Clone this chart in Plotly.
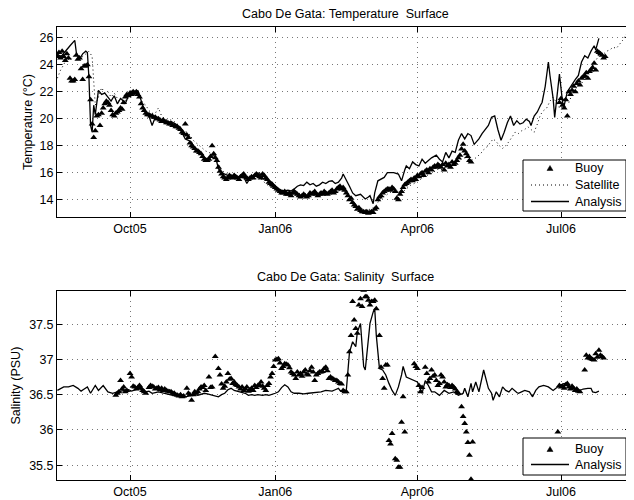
import pandas as pd
import plotly.graph_objects as go

# ---------------- data (day offsets from 2005-08-16) ----------------
BASE_DATE = "2005-08-16"

# Buoy temperature, daily from day 0 to 262
buoy_temp_a = [
    24.6, 24.9, 24.5, 25.0, 24.6, 24.3, 24.8, 24.5, 23.0, 22.8,
    22.8, 22.9, 24.7, 24.4, 24.5, 23.7, 22.9, 23.9, 23.9, 24.0,
    23.1, 21.4, 19.6, 18.6, 19.1, 20.2, 20.3, 19.5, 20.4, 20.8,
    21.1, 21.3, 21.2, 21.0, 20.6, 20.3, 20.2, 20.4, 20.5, 20.6,
    20.8, 20.7, 21.2, 21.6, 21.8, 21.7, 21.9, 21.8, 22.0, 21.9,
    22.0, 21.8, 21.6, 21.1, 20.8, 20.6, 20.4, 20.3, 20.3, 20.2,
    20.2, 20.1, 20.1, 20.0, 20.0, 19.9, 19.8, 19.9, 19.8, 19.7,
    19.7, 19.6, 19.6, 19.5, 19.5, 19.4, 19.4, 19.3, 19.2, 19.0,
    18.9, 19.6, 18.8, 18.6, 18.2, 18.0, 17.9, 17.8, 17.6, 17.6,
    17.5, 17.4, 17.2, 17.0, 16.9, 16.9, 17.0, 17.2, 18.0, 17.4,
    17.1, 16.9, 16.4, 16.1, 15.9, 15.7, 15.6, 15.5, 15.6, 15.8,
    15.7, 15.6, 15.8, 15.7, 15.6, 15.5, 15.7, 15.8, 15.9, 15.7,
    15.6, 15.5, 15.6, 15.7, 15.6, 15.8, 15.9, 15.8, 15.7, 15.6,
    15.9, 15.8, 15.6, 15.5, 15.3, 15.2, 15.1, 15.0, 14.9, 14.8,
    14.7, 14.6, 14.5, 14.5, 14.6, 14.4, 14.4, 14.5, 14.3, 14.5,
    14.6, 14.5, 14.4, 14.3, 14.2, 14.3, 14.4, 14.3, 14.2, 14.3,
    14.5, 14.4, 14.5, 14.6, 14.4, 14.3, 14.4, 14.5, 14.4, 14.6,
    14.5, 14.4, 14.5, 14.6, 14.7, 14.5, 14.6, 14.8, 14.9, 15.0,
    14.8, 14.9, 14.7, 14.5, 14.3, 14.0, 14.1, 13.8, 13.6, 13.5,
    13.3, 13.4, 13.2, 13.1, 13.1, 13.05, 13.1, 13.0, 13.05, 13.1,
    13.05, 13.3, 13.4, 14.0, 14.2, 14.3, 14.5, 14.6, 14.7, 14.8,
    14.8, 14.7, 14.9, 14.8, 14.6, 14.1, 14.0, 14.4, 14.6, 14.9,
    15.1, 15.2, 15.3, 15.4, 15.5, 15.4, 15.6, 15.5, 15.8, 15.7,
    15.9, 16.0, 15.8, 16.1, 16.2, 16.0, 16.3, 16.2, 16.4, 16.5,
    16.4, 16.6, 16.5, 16.4, 16.6, 16.2, 16.7, 16.5, 16.6, 16.4,
    16.8, 16.6, 16.7, 16.9, 17.1, 17.3, 17.75, 18.1, 17.6, 17.4,
    17.2, 16.9, 16.8,
]
# Buoy temperature, daily from day 318 to 347
buoy_temp_b_start = 318
buoy_temp_b = [
    21.2, 21.5, 21.0, 20.8, 21.4, 20.2, 22.0, 21.8, 22.1, 22.4,
    22.0, 22.6, 22.8, 22.5, 23.0, 23.1, 23.2, 23.4, 23.0, 23.5,
    23.6, 23.8, 24.1, 23.6, 25.0, 24.9, 24.8, 24.7, 24.5, 24.6,
]

# Satellite temperature, every 2 days from day 0
sat_temp = [
    23.0, 23.6, 24.0, 24.5, 24.3, 24.6, 24.9, 24.4, 24.6, 24.8,
    25.0, 24.6, 21.0, 21.6, 22.3, 21.9, 22.0, 21.6, 21.9, 21.5,
    21.2, 21.0, 21.6, 22.1, 22.0, 21.9, 21.6, 21.2, 21.0, 20.6,
    20.4, 20.4, 20.8, 20.2, 20.0, 19.9, 19.9, 19.8, 19.6, 19.4,
    19.1, 19.0, 18.8, 18.4, 18.2, 18.0, 17.8, 17.6, 17.5, 17.4,
    17.0, 16.6, 16.2, 16.0, 15.9, 15.8, 15.9, 15.7, 15.8, 15.6,
    15.7, 15.6, 15.5, 15.6, 15.7, 15.4, 15.2, 15.0, 14.9, 14.8,
    14.6, 14.5, 14.4, 14.5, 14.4, 14.3, 14.4, 14.5, 14.4, 14.3,
    14.4, 14.5, 14.4, 14.6, 14.5, 14.6, 14.5, 14.6, 14.7, 14.6,
    14.8, 14.6, 14.3, 14.0, 13.7, 13.5, 13.4, 13.3, 13.2, 13.3,
    13.4, 13.6, 14.0, 14.2, 14.3, 14.5, 14.6, 14.7, 14.6, 14.5,
    14.7, 14.9, 15.1, 15.2, 15.4, 15.5, 15.7, 15.8, 15.9, 16.0,
    16.2, 16.3, 16.2, 16.4, 16.6, 16.5, 16.7, 16.9, 17.0, 17.1,
    17.0, 16.9, 17.0, 17.2, 17.4, 17.7, 17.9, 18.2, 18.5, 18.3,
    18.0, 17.8, 18.0, 18.3, 18.7, 19.0, 18.9, 19.1, 19.2, 19.4,
    19.2, 19.0, 19.6, 20.3, 20.6, 20.8, 21.3, 21.6, 21.2, 20.8,
    21.3, 21.6, 21.2, 21.8, 22.2, 22.4, 22.6, 22.9, 23.3, 23.8,
    24.2, 24.6, 24.9, 24.8, 25.0, 25.1, 25.3, 25.2, 25.5, 25.8,
    26.2, 26.5,
]

# Analysis temperature
ana_temp_day = [
    0, 2, 3, 5, 8, 11, 12, 14, 16, 18,
    19, 20, 21, 22, 23, 24, 25, 26, 28, 30,
    32, 34, 36, 38, 40, 41, 43, 45, 47, 49,
    51, 53, 54, 56, 58, 60, 62, 64, 66, 68,
    70, 72, 75, 77, 79, 81, 83, 85, 87, 89,
    91, 93, 96, 98, 100, 102, 104, 106, 108, 110,
    112, 114, 117, 118, 120, 122, 124, 126, 128, 130,
    132, 134, 136, 138, 140, 142, 144, 146, 148, 150,
    152, 154, 156, 158, 160, 162, 164, 166, 168, 170,
    172, 174, 176, 178, 180, 181, 183, 185, 187, 189,
    192, 194, 195, 197, 198, 200, 201, 203, 205, 207,
    209, 211, 213, 216, 218, 220, 221, 223, 225, 227,
    229, 231, 233, 235, 237, 240, 242, 244, 246, 248,
    250, 252, 254, 256, 258, 260, 262, 264, 267, 269,
    271, 273, 275, 277, 279, 281, 283, 285, 287, 289,
    291, 293, 295, 297, 299, 300, 302, 304, 306, 307,
    309, 311, 312, 314, 315, 317, 318, 320, 321, 323,
    324, 326, 328, 330, 332, 334, 336, 338, 340, 341,
    343,
]
ana_temp = [
    24.8, 24.6, 24.7, 25.0, 25.4, 25.8, 24.9, 24.4, 24.8, 25.0,
    24.9, 23.0, 19.5, 19.0, 21.0, 20.3, 21.3, 22.1, 21.8, 21.9,
    21.6, 21.3, 21.7, 21.1, 21.5, 21.4, 21.1, 21.7, 22.0, 21.8,
    22.1, 21.4, 21.0, 20.5, 20.2, 19.5, 20.1, 20.0, 19.85, 19.9,
    19.7, 19.8, 19.6, 19.4, 19.0, 18.5, 18.4, 18.25, 17.75, 17.6,
    17.4, 17.1, 17.0, 17.25, 17.25, 16.3, 16.0, 15.9, 15.8, 15.7,
    15.9, 15.7, 15.8, 15.7, 15.2, 15.6, 15.8, 15.9, 16.0, 15.6,
    15.5, 15.4, 15.3, 15.0, 14.8, 14.7, 14.65, 14.7, 14.65, 14.8,
    15.0, 15.1, 15.05, 15.3, 15.1, 15.2, 15.0, 15.1, 15.3, 15.2,
    15.35, 15.4, 15.2, 15.3, 15.6, 15.9, 15.5, 15.0, 14.5, 14.3,
    14.4, 14.2, 14.05, 14.2, 14.3, 13.7, 14.5, 15.4, 15.5, 15.65,
    16.0, 16.0, 16.0, 15.9, 15.4, 16.2, 16.5, 16.3, 16.8, 16.6,
    16.5, 17.0, 16.7, 16.9, 17.1, 17.3, 17.0, 16.8, 17.5, 17.1,
    17.6, 17.5, 18.4, 18.9, 18.5, 18.9, 18.75, 18.1, 18.5, 18.9,
    19.2, 19.5, 20.1, 20.2, 19.2, 18.4, 19.0, 19.7, 20.2, 19.5,
    19.85, 19.6, 19.7, 19.97, 19.8, 19.5, 20.2, 20.5, 21.0, 21.2,
    22.4, 24.2, 23.2, 21.5, 20.1, 22.2, 23.3, 21.2, 20.96, 22.0,
    22.2, 22.6, 22.9, 23.2, 24.2, 24.67, 24.5, 25.0, 25.4, 25.1,
    25.95,
]

# Salinity buoy
sal_buoy_day = [
    37, 38, 39, 40, 41, 42, 43, 44, 46, 47,
    48, 49, 50, 51, 52, 53, 54, 55, 56, 58,
    59, 60, 61, 62, 63, 64, 65, 66, 67, 68,
    69, 70, 71, 72, 73, 74, 75, 76, 77, 78,
    79, 80, 82, 83, 84, 85, 86, 87, 88, 89,
    90, 91, 92, 93, 94, 96, 97, 98, 100, 102,
    103, 104, 105, 106, 107, 108, 109, 110, 111, 112,
    113, 114, 115, 116, 117, 118, 119, 120, 121, 122,
    123, 124, 125, 126, 127, 128, 129, 130, 131, 132,
    133, 134, 135, 136, 137, 138, 139, 140, 141, 142,
    143, 144, 145, 146, 147, 148, 149, 150, 151, 152,
    153, 154, 155, 156, 157, 158, 159, 160, 161, 162,
    163, 164, 165, 166, 167, 168, 169, 170, 171, 172,
    173, 174, 175, 176, 177, 178, 179, 180, 181, 182,
    183, 184, 185, 186, 187, 188, 189, 190, 191, 192,
    193, 194, 195, 196, 197, 198, 199, 200, 201, 202,
    204, 205, 206, 207, 208, 209, 210, 211, 212, 214,
    215, 216, 217, 218, 219, 220, 226, 227, 228, 229,
    230, 231, 233, 234, 235, 236, 237, 238, 239, 240,
    241, 242, 243, 244, 245, 246, 247, 248, 249, 250,
    251, 252, 253, 254, 256, 257, 258, 259, 260, 261,
    262, 263, 317, 318, 319, 320, 321, 322, 323, 324,
    325, 326, 327, 328, 329, 330, 331, 334, 335, 336,
    337, 338, 339, 340, 341, 342, 343, 344, 345, 346,
]
sal_buoy = [
    36.49, 36.52, 36.54, 36.70, 36.58, 36.61, 36.54, 36.56, 36.80, 36.75,
    36.62, 36.61, 36.58, 36.60, 36.63, 36.59, 36.56, 36.54, 36.52, 36.60,
    36.63, 36.62, 36.61, 36.58, 36.59, 36.60, 36.57, 36.59, 36.56, 36.58,
    36.56, 36.55, 36.54, 36.54, 36.52, 36.52, 36.50, 36.49, 36.48, 36.50,
    36.47, 36.48, 36.59, 36.52, 36.50, 36.42, 36.50, 36.54, 36.52, 36.54,
    36.58, 36.61, 36.60, 36.63, 36.56, 36.75, 36.60, 36.61, 37.04, 36.87,
    36.78, 36.65, 36.59, 36.62, 36.68, 36.80, 36.72, 36.73, 36.66, 36.68,
    36.64, 36.63, 36.61, 36.58, 36.61, 36.56, 36.58, 36.61, 36.55, 36.57,
    36.59, 36.56, 36.63, 36.60, 36.63, 36.64, 36.68, 36.62, 36.59, 36.56,
    36.63, 36.66, 36.75, 36.80, 36.90, 36.99, 37.00, 37.01, 36.95, 36.87,
    36.90, 36.94, 36.93, 36.92, 36.88, 36.82, 36.80, 36.78, 36.73, 36.82,
    36.78, 36.80, 36.76, 36.82, 36.85, 36.79, 36.78, 36.84, 36.89, 36.82,
    36.70, 36.78, 36.80, 36.82, 36.82, 36.83, 36.87, 36.89, 36.84, 36.73,
    36.75, 36.73, 36.72, 36.70, 36.70, 36.68, 36.66, 36.65, 36.56, 36.54,
    36.54, 36.78, 37.11, 37.34, 37.82, 37.56, 37.44, 37.37, 37.77, 37.86,
    37.75, 37.98, 37.89, 37.89, 37.84, 37.77, 37.82, 37.82, 37.84, 37.72,
    37.34, 36.89, 36.73, 36.59, 36.92, 36.92, 35.85, 35.80, 35.95, 35.59,
    35.57, 35.47, 35.47, 36.11, 36.47, 35.97, 36.94, 36.90, 36.87, 36.63,
    36.54, 36.60, 36.89, 36.80, 36.68, 36.73, 36.85, 36.76, 36.78, 36.70,
    36.63, 36.66, 36.78, 36.75, 36.68, 36.61, 36.64, 36.63, 36.60, 36.63,
    36.61, 36.58, 36.54, 36.52, 36.33, 36.19, 36.09, 35.97, 35.82, 35.64,
    35.30, 35.83, 35.97, 36.63, 36.61, 36.62, 36.59, 36.64, 36.66, 36.61,
    36.58, 36.62, 36.59, 36.56, 36.58, 36.55, 36.54, 36.85, 37.06, 37.02,
    37.04, 37.01, 37.00, 36.99, 37.08, 37.03, 37.13, 37.06, 37.04, 37.02,
]

# Salinity analysis
sal_ana_day = [
    0, 2, 4, 7, 10, 13, 15, 17, 19, 21,
    24, 26, 29, 32, 35, 38, 40, 43, 45, 47,
    50, 52, 54, 56, 58, 60, 62, 64, 66, 68,
    70, 73, 75, 77, 79, 81, 83, 85, 87, 89,
    91, 93, 95, 98, 100, 102, 104, 106, 108, 110,
    112, 114, 117, 119, 121, 123, 125, 127, 130, 132,
    134, 136, 138, 140, 142, 144, 146, 148, 150, 153,
    156, 159, 162, 165, 167, 170, 172, 174, 176, 178,
    179, 181, 183, 184, 185, 187, 189, 190, 192, 193,
    194, 195, 196, 197, 198, 200, 201, 202, 204, 206,
    208, 210, 212, 214, 216, 218, 219, 221, 223, 225,
    228, 229, 231, 233, 235, 237, 239, 242, 245, 248,
    251, 254, 257, 258, 260, 262, 263, 265, 267, 270,
    272, 273, 275, 276, 278, 280, 282, 284, 286, 288,
    291, 292, 294, 296, 299, 301, 303, 305, 308, 311,
    314, 318, 321, 324, 327, 330, 333, 336, 338, 339,
    341, 343,
]
sal_ana = [
    36.56, 36.58, 36.61, 36.61, 36.63, 36.59, 36.55, 36.58, 36.61, 36.52,
    36.63, 36.56, 36.63, 36.54, 36.52, 36.54, 36.55, 36.56, 36.57, 36.55,
    36.58, 36.59, 36.56, 36.54, 36.55, 36.52, 36.53, 36.54, 36.53, 36.52,
    36.51, 36.49, 36.50, 36.47, 36.48, 36.47, 36.48, 36.49, 36.50, 36.49,
    36.51, 36.52, 36.51, 36.49, 36.48, 36.47, 36.50, 36.52, 36.57, 36.59,
    36.56, 36.55, 36.54, 36.52, 36.49, 36.50, 36.49, 36.50, 36.49, 36.50,
    36.49, 36.50, 36.52, 36.54, 36.60, 36.64, 36.61, 36.54, 36.52, 36.52,
    36.51, 36.52, 36.53, 36.53, 36.54, 36.56, 36.55, 36.55, 36.57, 36.59,
    36.56, 36.54, 36.56, 36.78, 37.10, 37.25, 37.18, 37.39, 37.51, 37.20,
    36.90, 36.85, 37.05, 37.30, 37.51, 37.67, 37.72, 37.34, 36.87, 36.85,
    36.78, 36.66, 36.56, 36.49, 36.61, 36.78, 36.90, 36.75, 36.73, 36.70,
    36.68, 36.63, 36.52, 36.70, 36.63, 36.54, 36.54, 36.49, 36.56, 36.52,
    36.54, 36.49, 36.52, 36.59, 36.47, 36.66, 36.54, 36.68, 36.54, 36.85,
    36.65, 36.59, 36.52, 36.42, 36.54, 36.47, 36.61, 36.56, 36.54, 36.59,
    36.53, 36.52, 36.54, 36.56, 36.54, 36.47, 36.56, 36.61, 36.63, 36.61,
    36.56, 36.63, 36.66, 36.63, 36.59, 36.55, 36.58, 36.59, 36.59, 36.54,
    36.53, 36.55,
]

tick_dates = ["2005-10-01", "2006-01-01", "2006-04-01", "2006-07-01"]
tick_labels = ["Oct05", "Jan06", "Apr06", "Jul06"]
temp_ticks = [14, 16, 18, 20, 22, 24, 26]
sal_ticks = [35.5, 36, 36.5, 37, 37.5]
sal_tick_labels = ["35.5", "36", "36.5", "37", "37.5"]
legend_top = ["Buoy", "Satellite", "Analysis"]
legend_bottom = ["Buoy", "Analysis"]

# ---------------- helpers ----------------
base = pd.Timestamp(BASE_DATE)


def to_dates(days):
    return [base + pd.Timedelta(days=d) for d in days]


buoy_temp_days = list(range(len(buoy_temp_a))) + [buoy_temp_b_start + i for i in range(len(buoy_temp_b))]
buoy_temp_vals = buoy_temp_a + buoy_temp_b
sat_days = [2 * i for i in range(len(sat_temp))]

# page body has an 8px margin: figure is placed at (8, 8) in the window
OFF = 8
W, H = 634 - OFF, 500 - OFF
L, R = 57, 630  # plot edges in window pixels
FONT = "Liberation Sans, Arial, Helvetica, sans-serif"
FS = 12.5
DOT = "1px,3px"


def px(x):
    return (x - OFF) / W


def py(y):
    return 1 - (y - OFF) / H


fig = go.Figure()

# top panel
fig.add_trace(go.Scatter(x=to_dates(buoy_temp_days), y=buoy_temp_vals, mode="markers", name="Buoy",
                         marker=dict(symbol="triangle-up", size=6, color="black"),
                         xaxis="x", yaxis="y"))
fig.add_trace(go.Scatter(x=to_dates(sat_days), y=sat_temp, mode="lines", name="Satellite",
                         line=dict(color="black", width=1, dash=DOT),
                         xaxis="x", yaxis="y"))
fig.add_trace(go.Scatter(x=to_dates(ana_temp_day), y=ana_temp, mode="lines", name="Analysis",
                         line=dict(color="black", width=1.3),
                         xaxis="x", yaxis="y"))

# bottom panel
fig.add_trace(go.Scatter(x=to_dates(sal_buoy_day), y=sal_buoy, mode="markers", name="Buoy",
                         marker=dict(symbol="triangle-up", size=6, color="black"),
                         xaxis="x2", yaxis="y2"))
fig.add_trace(go.Scatter(x=to_dates(sal_ana_day), y=sal_ana, mode="lines", name="Analysis",
                         line=dict(color="black", width=1.3),
                         xaxis="x2", yaxis="y2"))

x_range = [base - pd.Timedelta(hours=6), base + pd.Timedelta(days=362.7)]

common_axis = dict(
    showline=True, linecolor="black", linewidth=1, mirror="ticks",
    ticks="inside", ticklen=5, tickwidth=1, tickcolor="black",
    showgrid=True, gridcolor="#777777", griddash="1px,4px", gridwidth=1,
    zeroline=False, tickfont=dict(family=FONT, size=FS, color="black"),
    automargin=False,
)

xdom = [px(L), px(R)]

# ---- MATLAB-style legend boxes (shapes + text) ----
shapes = []
annotations = []


def legend_box(x0, y0, x1, y1, rows, names):
    shapes.append(dict(type="rect", xref="paper", yref="paper", x0=px(x0), x1=px(x1),
                       y0=py(y1), y1=py(y0), line=dict(color="black", width=1),
                       fillcolor="white", layer="above"))
    for (ry, kind), name in zip(rows, names):
        if kind == "tri":
            path = "M {a},{b} L {c},{b} L {d},{e} Z".format(
                a=px(547), c=px(553), b=py(ry + 2.5), d=px(550), e=py(ry - 2.5))
            shapes.append(dict(type="path", xref="paper", yref="paper", path=path,
                               fillcolor="black", line=dict(color="black", width=0.5), layer="above"))
        else:
            shapes.append(dict(type="line", xref="paper", yref="paper", x0=px(531), x1=px(569),
                               y0=py(ry), y1=py(ry), layer="above",
                               line=dict(color="black", width=1 if kind == "dot" else 1.3,
                                         dash=DOT if kind == "dot" else "solid")))
        annotations.append(dict(text=name, xref="paper", yref="paper", x=px(573), y=py(ry),
                                xanchor="left", yanchor="middle", showarrow=False,
                                font=dict(family=FONT, size=FS, color="black")))


legend_box(523, 160, 626, 211, [(168, "tri"), (185, "dot"), (201.5, "line")], legend_top)
legend_box(523, 438, 626, 475, [(449, "tri"), (464.5, "line")], legend_bottom)

annotations += [
    dict(text="Cabo De Gata: Temperature\u00a0 Surface", xref="paper", yref="paper",
         x=px(345), y=py(14.5), xanchor="center", yanchor="middle", borderpad=0,
         showarrow=False, font=dict(family=FONT, size=FS, color="black")),
    dict(text="Cabo De Gata: Salinity\u00a0 Surface", xref="paper", yref="paper",
         x=px(345), y=py(276.5), xanchor="center", yanchor="middle", borderpad=0,
         showarrow=False, font=dict(family=FONT, size=FS, color="black")),
    dict(text="Temperature (°C)", xref="paper", yref="paper", textangle=-90,
         x=px(28), y=py(122), xanchor="center", yanchor="middle",
         showarrow=False, font=dict(family=FONT, size=FS, color="black")),
    dict(text="Salinity (PSU)", xref="paper", yref="paper", textangle=-90,
         x=px(15), y=py(385.5), xanchor="center", yanchor="middle",
         showarrow=False, font=dict(family=FONT, size=FS, color="black")),
]

fig.update_layout(
    width=W, height=H, autosize=False,
    margin=dict(l=0, r=0, t=0, b=0, pad=0),
    paper_bgcolor="white", plot_bgcolor="white",
    font=dict(family=FONT, size=FS, color="black"),
    showlegend=False,
    xaxis=dict(domain=xdom, range=x_range, type="date", anchor="y",
               tickvals=tick_dates, ticktext=tick_labels, **common_axis),
    yaxis=dict(domain=[py(217), py(27)], range=[12.72, 26.79], anchor="x",
               tickvals=temp_ticks, **common_axis),
    xaxis2=dict(domain=xdom, range=x_range, type="date", anchor="y2",
                tickvals=tick_dates, ticktext=tick_labels, **common_axis),
    yaxis2=dict(domain=[py(480), py(291)], range=[35.29, 37.97], anchor="x2",
                tickvals=sal_ticks, ticktext=sal_tick_labels, **common_axis),
    shapes=shapes,
    annotations=annotations,
)

fig.write_html("out.html")
